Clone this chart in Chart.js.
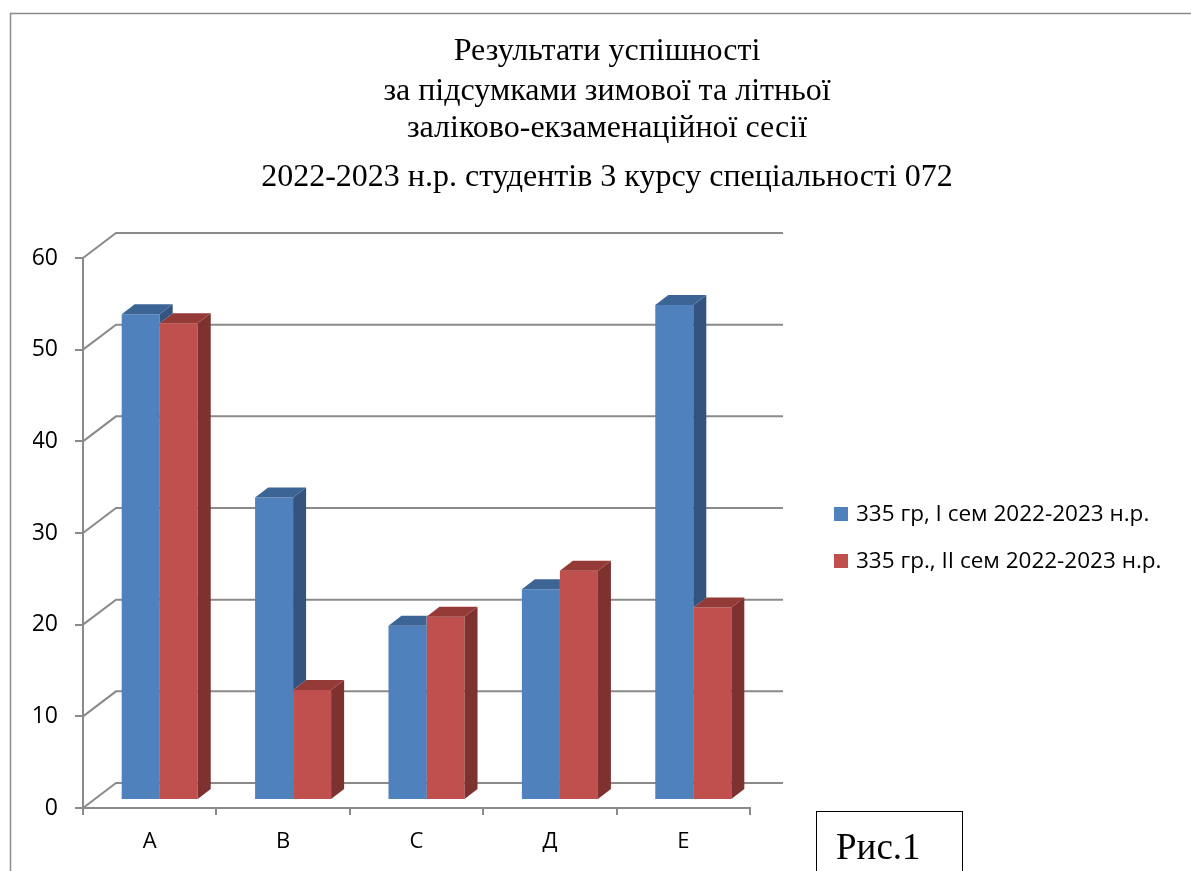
<!DOCTYPE html>
<html>
<head>
<meta charset="utf-8">
<script src="https://cdn.jsdelivr.net/npm/chart.js@4/dist/chart.umd.min.js"></script>
<style>
html,body{margin:0;padding:0;background:#fff;}
#wrap{width:1191px;height:871px;position:relative;}
</style>
</head>
<body>
<div id="wrap"><canvas id="c" width="1191" height="871"></canvas></div>
<script>
// ---- data ----
const categories = ['A', 'B', 'C', 'Д', 'E'];
const seriesNames = ['335 гр, І сем 2022-2023 н.р.', '335 гр., ІІ сем 2022-2023 н.р.'];
const semester1 = [53, 33, 19, 23, 54];
const semester2 = [52, 12, 20, 25, 21];
const yMin = 0, yMax = 60, yStep = 10;
const titleLines = ['Результати успішності', 'за підсумками зимової та літньої', 'заліково-екзаменаційної сесії', '2022-2023 н.р. студентів 3 курсу спеціальності 072'];
const figureLabel = 'Рис.1';

// ---- styling ----
const fronts = ['#4F81BD', '#C0504D'];
const sides = ['#34547F', '#7D3230'];
const tops = ['#3C6595', '#943A37'];
const gridColor = '#8A8A8A';
const DEPTH = {x: 33, y: -25};     // front wall -> back wall
const BAR_SHIFT = {x: 10, y: -8};  // front plane -> bar front faces
const BAR_DEPTH = {x: 13, y: -10}; // thickness of bars

function barGeom(bar) {
  const p = bar.getProps(['x', 'y', 'base', 'width'], true);
  return {l: p.x - p.width / 2, r: p.x + p.width / 2, top: Math.min(p.y, p.base), bot: Math.max(p.y, p.base)};
}

const plugin3d = {
  id: 'plot3d',
  beforeDraw(chart) {
    const ctx = chart.ctx;
    ctx.save();
    ctx.fillStyle = '#fff';
    ctx.fillRect(0, 0, chart.width, chart.height);
    ctx.strokeStyle = '#8c8c8c';
    ctx.lineWidth = 1.5;
    ctx.beginPath();
    ctx.moveTo(10.5, 871);
    ctx.lineTo(10.5, 13.5);
    ctx.lineTo(1191, 13.5);
    ctx.stroke();
    ctx.fillStyle = '#000';
    ctx.textAlign = 'center';
    ctx.textBaseline = 'alphabetic';
    ctx.font = '32px "Liberation Serif", "DejaVu Serif", serif';
    const bases = [60, 100, 137, 186];
    titleLines.forEach((t, i) => ctx.fillText(t, 607, bases[i]));
    ctx.restore();
  },
  beforeDatasetsDraw(chart) {
    const ctx = chart.ctx;
    const ys = chart.scales.y;
    const L = chart.chartArea.left, R = chart.chartArea.right;
    ctx.save();
    ctx.strokeStyle = gridColor;
    ctx.lineWidth = 2;
    ys.ticks.forEach(t => {
      const y = ys.getPixelForValue(t.value);
      ctx.beginPath();
      ctx.moveTo(L, y);
      ctx.lineTo(L + DEPTH.x, y + DEPTH.y);
      ctx.lineTo(R + DEPTH.x, y + DEPTH.y);
      ctx.stroke();
    });
    ctx.restore();
  },
  beforeDatasetDraw(chart) {
    chart.ctx.save();
    chart.ctx.translate(BAR_SHIFT.x, BAR_SHIFT.y);
  },
  afterDatasetDraw(chart, args) {
    const ctx = chart.ctx;
    const i = args.index;
    // exclude faces of bars drawn earlier that lie in front (datasets to the right)
    const clip = new Path2D();
    clip.rect(-100, -100, chart.width + 200, chart.height + 200);
    for (let j = i + 1; j < chart.data.datasets.length; j++) {
      chart.getDatasetMeta(j).data.forEach(b => {
        const g = barGeom(b);
        clip.rect(g.l, g.top, g.r - g.l, g.bot - g.top);
        clip.moveTo(g.l, g.top);
        clip.lineTo(g.l + BAR_DEPTH.x, g.top + BAR_DEPTH.y);
        clip.lineTo(g.r + BAR_DEPTH.x, g.top + BAR_DEPTH.y);
        clip.lineTo(g.r, g.top);
        clip.closePath();
      });
    }
    ctx.save();
    ctx.clip(clip, 'evenodd');
    args.meta.data.forEach(bar => {
      const g = barGeom(bar);
      ctx.fillStyle = sides[i];
      ctx.beginPath();
      ctx.moveTo(g.r, g.top);
      ctx.lineTo(g.r + BAR_DEPTH.x, g.top + BAR_DEPTH.y);
      ctx.lineTo(g.r + BAR_DEPTH.x, g.bot + BAR_DEPTH.y);
      ctx.lineTo(g.r, g.bot);
      ctx.closePath();
      ctx.fill();
      ctx.fillStyle = tops[i];
      ctx.beginPath();
      ctx.moveTo(g.l, g.top);
      ctx.lineTo(g.l + BAR_DEPTH.x, g.top + BAR_DEPTH.y);
      ctx.lineTo(g.r + BAR_DEPTH.x, g.top + BAR_DEPTH.y);
      ctx.lineTo(g.r, g.top);
      ctx.closePath();
      ctx.fill();
    });
    ctx.restore();
    ctx.restore();
  },
  afterDraw(chart) {
    const ctx = chart.ctx;
    ctx.save();
    ctx.font = '22.5px "Open Sans", "Noto Sans", sans-serif';
    ctx.textBaseline = 'middle';
    ctx.textAlign = 'left';
    const ly = [514, 561];
    chart.data.datasets.forEach((ds, i) => {
      ctx.fillStyle = ds.backgroundColor;
      ctx.fillRect(834, ly[i] - 7, 14, 14);
      ctx.fillStyle = '#000';
      ctx.fillText(ds.label, 856, ly[i] + 1);
    });
    ctx.fillStyle = '#fff';
    ctx.fillRect(816, 811, 146, 62);
    ctx.strokeStyle = '#000';
    ctx.lineWidth = 1;
    ctx.strokeRect(816.5, 811.5, 146, 70);
    ctx.fillStyle = '#000';
    ctx.font = '37px "Liberation Serif", "DejaVu Serif", serif';
    ctx.textBaseline = 'alphabetic';
    ctx.fillText(figureLabel, 836, 859);
    ctx.restore();
  }
};

new Chart(document.getElementById('c'), {
  type: 'bar',
  data: {
    labels: categories,
    datasets: [
      {label: seriesNames[0], data: semester1, backgroundColor: fronts[0]},
      {label: seriesNames[1], data: semester2, backgroundColor: fronts[1]}
    ]
  },
  options: {
    responsive: false,
    animation: false,
    devicePixelRatio: 1,
    datasets: {bar: {categoryPercentage: 0.57, barPercentage: 1, borderWidth: 0, clip: false}},
    layout: {padding: {left: 33, right: 441, top: 258, bottom: 13}},
    plugins: {legend: {display: false}, title: {display: false}, tooltip: {enabled: false}},
    scales: {
      x: {
        offset: true,
        afterFit(s) { s.height = 50; },
        grid: {offset: true, drawOnChartArea: false, drawTicks: true, tickLength: 7, color: gridColor, lineWidth: 2},
        border: {display: true, color: gridColor, width: 2},
        ticks: {color: '#000', padding: 14, font: {family: '"Open Sans", "Noto Sans", sans-serif', size: 22}}
      },
      y: {
        min: yMin, max: yMax,
        afterFit(s) { s.width = 50; },
        grid: {drawOnChartArea: false, drawTicks: true, tickLength: 8, color: gridColor, lineWidth: 2},
        border: {display: true, color: gridColor, width: 2},
        ticks: {stepSize: yStep, color: '#000', padding: 17, font: {family: '"Open Sans", "Noto Sans", sans-serif', size: 23}}
      }
    }
  },
  plugins: [plugin3d]
});
</script>
</body>
</html>
